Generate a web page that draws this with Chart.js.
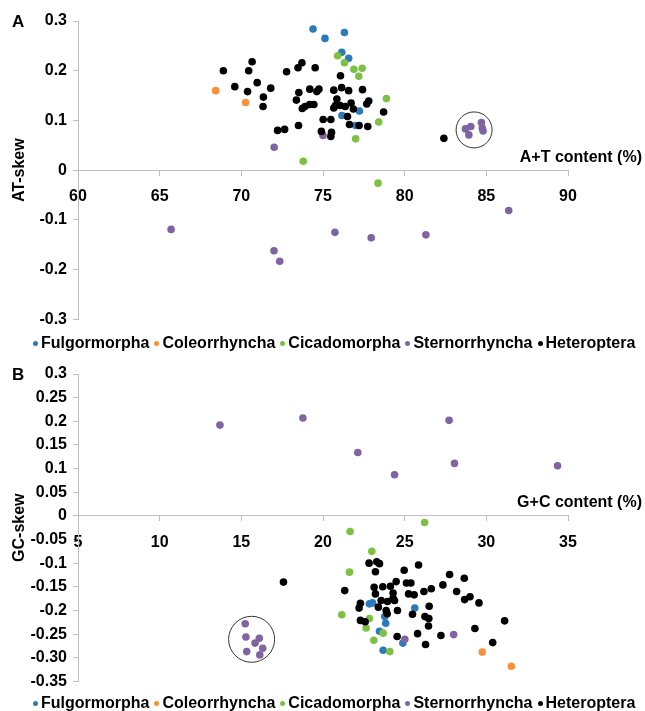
<!DOCTYPE html>
<html>
<head>
<meta charset="utf-8">
<script src="https://cdn.jsdelivr.net/npm/chart.js@4.4.1/dist/chart.umd.min.js"></script>
<style>
  body { margin: 0; background: #fff; font-family: "Liberation Sans", Arial, sans-serif; }
  #page { position: relative; width: 645px; height: 711px; overflow: hidden; }
  canvas { position: absolute; left: 0; }
  .panel { position: absolute; left: 12px; font-weight: bold; font-size: 17px; line-height: 20px; }
  .legend { position: absolute; left: 33px; font-weight: bold; font-size: 16px; line-height: 18px; white-space: nowrap; display: flex; align-items: center; }
  .legend .item { display: flex; align-items: center; margin-right: 5px; }
  .legend .dot { width: 5px; height: 5px; border-radius: 50%; margin-right: 3px; }
</style>
</head>
<body>
<div id="page">
  <canvas id="chartA" width="645" height="335" style="top:0"></canvas>
  <canvas id="chartB" width="645" height="344" style="top:353px"></canvas>
  <div class="panel" style="top:12px">A</div>
  <div class="panel" style="top:365px">B</div>
  <div class="legend" id="legendA" style="top:334px"></div>
  <div class="legend" id="legendB" style="top:694px"></div>
</div>
<script>
const seriesNames = ['Fulgormorpha', 'Coleorrhyncha', 'Cicadomorpha', 'Sternorrhyncha', 'Heteroptera'];
const seriesColors = ['#2B7BBA', '#F7923A', '#7DC142', '#8064A2', '#000000'];

// panel A: A+T content (%) vs AT-skew
const fulgorA = [[74.39, 0.284], [75.12, 0.265], [76.31, 0.277], [76.15, 0.237], [76.57, 0.225], [77.23, 0.119], [76.16, 0.110], [77.0, 0.090]];
const coleoA = [[68.43, 0.160], [70.26, 0.136]];
const cicadoA = [[73.79, 0.018], [75.9, 0.230], [76.31, 0.216], [76.89, 0.203], [77.4, 0.205], [77.19, 0.189], [78.88, 0.144], [78.41, 0.097], [77.0, 0.063], [78.37, -0.026]];
const sternoA = [[72.01, 0.046], [75.0, 0.070], [65.7, -0.119], [72.0, -0.162], [72.35, -0.183], [75.73, -0.125], [77.95, -0.136], [81.3, -0.130], [86.37, -0.081],
  [83.72, 0.083], [84.05, 0.088], [83.93, 0.071], [84.7, 0.096], [84.75, 0.085], [84.8, 0.079]];
const heteroA = [[68.9, 0.200], [70.66, 0.218], [70.45, 0.200], [69.6, 0.168], [70.38, 0.158], [70.97, 0.176], [71.8, 0.165], [71.35, 0.147], [71.33, 0.128],
  [72.22, 0.080], [72.65, 0.082], [72.77, 0.198], [73.5, 0.090], [73.47, 0.206], [73.71, 0.216], [74.52, 0.206], [73.52, 0.156], [73.37, 0.141],
  [74.19, 0.163], [74.62, 0.158], [74.75, 0.163], [73.73, 0.124], [73.9, 0.128], [74.18, 0.132], [74.44, 0.132], [75.01, 0.102], [75.48, 0.102],
  [74.9, 0.078], [75.52, 0.076], [75.48, 0.068], [75.66, 0.161], [76.14, 0.166], [76.57, 0.160], [76.07, 0.190], [77.42, 0.162], [75.85, 0.143],
  [75.76, 0.130], [76.05, 0.130], [76.36, 0.128], [76.72, 0.135], [76.86, 0.123], [75.66, 0.125], [76.5, 0.108], [76.62, 0.092], [77.21, 0.090],
  [77.74, 0.088], [77.8, 0.139], [77.68, 0.133], [78.71, 0.117], [82.4, 0.064]];
const xTicksA = [60, 65, 70, 75, 80, 85, 90];
const yTicksA = [-0.3, -0.2, -0.1, 0, 0.1, 0.2, 0.3];
const yLabelsA = ['-0.3', '-0.2', '-0.1', '0', '0.1', '0.2', '0.3'];
const circleA = [84.25, 0.081];

// panel B: G+C content (%) vs GC-skew
const fulgorB = [[22.84, -0.186], [23.03, -0.184], [23.78, -0.213], [23.84, -0.227], [23.46, -0.244], [23.68, -0.284], [24.89, -0.269], [25.62, -0.195]];
const coleoB = [[29.75, -0.288], [31.53, -0.318]];
const cicadoB = [[26.22, -0.014], [21.66, -0.033], [22.99, -0.075], [21.62, -0.119], [21.15, -0.209], [22.84, -0.217], [22.64, -0.237], [23.68, -0.248], [23.11, -0.263], [24.09, -0.287]];
const sternoB = [[13.69, 0.192], [18.77, 0.207], [27.72, 0.202], [22.13, 0.134], [24.38, 0.087], [28.05, 0.111], [34.36, 0.106], [25.01, -0.261], [28.0, -0.251],
  [15.24, -0.228], [15.28, -0.256], [16.1, -0.259], [15.84, -0.269], [16.31, -0.280], [15.33, -0.287], [16.13, -0.294]];
const heteroB = [[17.58, -0.140], [22.82, -0.100], [23.29, -0.097], [23.46, -0.101], [23.21, -0.118], [24.97, -0.115], [25.85, -0.104], [21.33, -0.158],
  [23.13, -0.151], [23.66, -0.150], [24.13, -0.149], [24.48, -0.139], [25.11, -0.142], [25.38, -0.142], [24.29, -0.163], [24.29, -0.174], [23.21, -0.165],
  [23.56, -0.179], [23.95, -0.181], [24.38, -0.179], [22.29, -0.185], [22.21, -0.195], [23.39, -0.193], [23.87, -0.200], [23.93, -0.207], [24.56, -0.200],
  [25.24, -0.165], [25.58, -0.167], [26.18, -0.160], [26.63, -0.154], [27.34, -0.146], [27.75, -0.124], [28.65, -0.132], [28.18, -0.160], [28.67, -0.177],
  [29.0, -0.171], [29.55, -0.184], [26.5, -0.191], [25.48, -0.208], [26.24, -0.213], [26.48, -0.217], [26.46, -0.233], [22.29, -0.221], [22.58, -0.224],
  [24.54, -0.255], [25.79, -0.249], [26.28, -0.272], [27.22, -0.253], [29.3, -0.238], [30.39, -0.268], [31.12, -0.222]];
const xTicksB = [5, 10, 15, 20, 25, 30, 35];
const yTicksB = [-0.35, -0.3, -0.25, -0.2, -0.15, -0.1, -0.05, 0, 0.05, 0.1, 0.15, 0.2, 0.25, 0.3];
const yLabelsB = ['-0.35', '-0.30', '-0.25', '-0.2', '-0.15', '-0.1', '-0.05', '0', '0.05', '0.1', '0.15', '0.2', '0.25', '0.3'];
const circleB = [15.63, -0.261];

const fontFamily = '"Liberation Sans", Arial, sans-serif';
const axisGrey = '#BFBFBF';

// x axis title sits just above the zero line, right of the plot; the ring marks the cluster
const extrasPlugin = {
    id: 'extras',
    afterDatasetsDraw(chart, args, opts) {
        const ctx = chart.ctx;
        const xs = chart.scales.x, ys = chart.scales.y;
        ctx.save();
        ctx.strokeStyle = '#333';
        ctx.lineWidth = 1;
        ctx.beginPath();
        ctx.arc(xs.getPixelForValue(opts.circle[0]), ys.getPixelForValue(opts.circle[1]), opts.radius, 0, Math.PI * 2);
        ctx.stroke();
        ctx.font = 'bold 16px ' + fontFamily;
        ctx.fillStyle = '#000';
        ctx.textAlign = 'right';
        ctx.textBaseline = 'middle';
        ctx.fillText(opts.xTitle, chart.width - 3, ys.getPixelForValue(0) - 13);
        ctx.restore();
    }
};

function makeChart(id, groups, xTicks, yTicks, yLabels, yTitle, xTitle, circle, radius) {
    const ctx = document.getElementById(id).getContext('2d');
    const datasets = groups.map((pts, i) => ({
        label: seriesNames[i],
        data: pts.map(p => ({ x: p[0], y: p[1] })),
        backgroundColor: seriesColors[i],
        borderColor: seriesColors[i],
        borderWidth: 0,
        pointRadius: 3.8,
        pointHoverRadius: 3.8,
        order: groups.length - i
    }));
    const tickFont = { family: fontFamily, size: 16, weight: 'bold' };
    return new Chart(ctx, {
        type: 'scatter',
        data: { datasets },
        plugins: [extrasPlugin],
        options: {
            responsive: false,
            animation: false,
            events: [],
            layout: { padding: { top: 21, right: 77, bottom: 13, left: 0 } },
            plugins: {
                legend: { display: false },
                tooltip: { enabled: false },
                extras: { circle, radius, xTitle }
            },
            scales: {
                x: {
                    type: 'linear',
                    min: xTicks[0],
                    max: xTicks[xTicks.length - 1],
                    position: { y: 0 },
                    afterBuildTicks: s => { s.ticks = xTicks.map(v => ({ value: v })); },
                    grid: { drawOnChartArea: false, drawTicks: true, tickLength: 5, color: axisGrey },
                    border: { color: axisGrey, width: 1 },
                    ticks: { font: tickFont, color: '#000', padding: 12, maxRotation: 0, autoSkip: false }
                },
                y: {
                    type: 'linear',
                    min: yTicks[0],
                    max: yTicks[yTicks.length - 1],
                    afterBuildTicks: s => { s.ticks = yTicks.map(v => ({ value: v })); },
                    afterFit: s => { s.width = 78; },
                    grid: { drawOnChartArea: false, drawTicks: true, tickLength: 5, color: axisGrey },
                    border: { color: axisGrey, width: 1 },
                    ticks: {
                        font: tickFont, color: '#000', padding: 6, autoSkip: false,
                        callback: v => {
                            const k = yTicks.findIndex(t => Math.abs(t - v) < 1e-9);
                            return k >= 0 ? yLabels[k] : '';
                        }
                    },
                    title: { display: true, text: yTitle, color: '#000', font: tickFont, padding: { top: 10, bottom: 0 } }
                }
            }
        }
    });
}

function makeLegend(id) {
    const el = document.getElementById(id);
    seriesNames.forEach((name, i) => {
        const item = document.createElement('span');
        item.className = 'item';
        const dot = document.createElement('span');
        dot.className = 'dot';
        dot.style.background = seriesColors[i];
        item.appendChild(dot);
        item.appendChild(document.createTextNode(name));
        el.appendChild(item);
    });
}

makeChart('chartA', [fulgorA, coleoA, cicadoA, sternoA, heteroA], xTicksA, yTicksA, yLabelsA, 'AT-skew', 'A+T content (%)', circleA, 18);
makeChart('chartB', [fulgorB, coleoB, cicadoB, sternoB, heteroB], xTicksB, yTicksB, yLabelsB, 'GC-skew', 'G+C content (%)', circleB, 23);
makeLegend('legendA');
makeLegend('legendB');
</script>
</body>
</html>
